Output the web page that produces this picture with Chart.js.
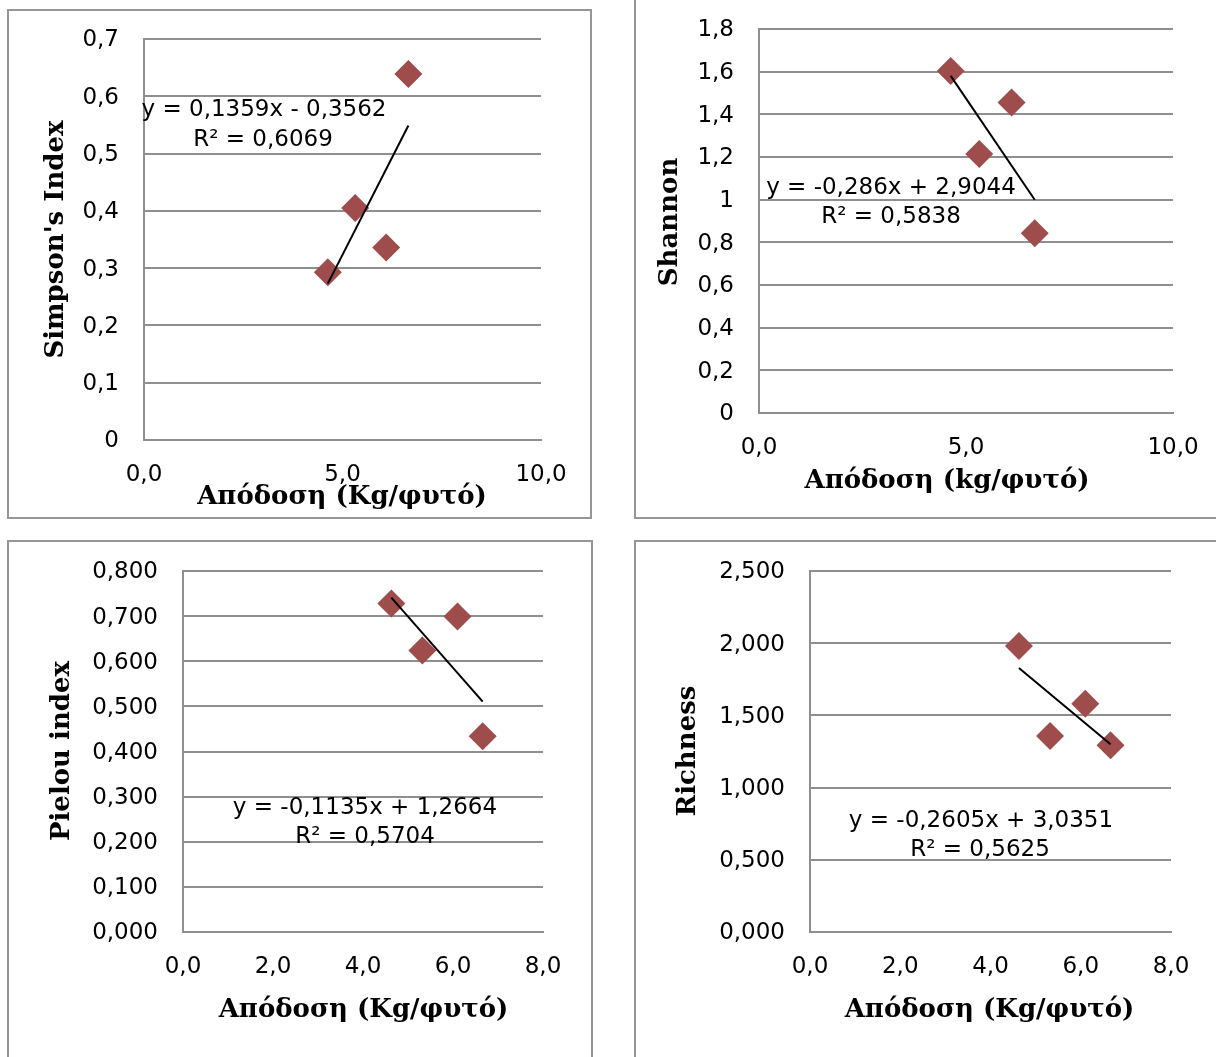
<!DOCTYPE html>
<html><head><meta charset="utf-8">
<script src="https://cdn.jsdelivr.net/npm/chart.js@4.4.1/dist/chart.umd.min.js"></script>
<style>
html,body{margin:0;padding:0;background:#fff;width:1216px;height:1057px;overflow:hidden;position:relative}
canvas{position:absolute}
.frame{position:absolute;border:2px solid #969696;box-sizing:border-box;pointer-events:none}
</style></head><body>
<div class="frame" style="left:7px;top:9px;width:585px;height:510px"></div>
<div class="frame" style="left:634px;top:-10px;width:700px;height:529px"></div>
<div class="frame" style="left:7px;top:540px;width:586px;height:600px"></div>
<div class="frame" style="left:634px;top:540px;width:700px;height:600px"></div>
<canvas id="c0" width="585" height="519" style="left:7px;top:0px"></canvas>
<canvas id="c1" width="700" height="529" style="left:634px;top:-10px"></canvas>
<canvas id="c2" width="586" height="608" style="left:7px;top:532px"></canvas>
<canvas id="c3" width="700" height="608" style="left:634px;top:532px"></canvas>
<script>
// ---- data ----
const yieldKg = [4.63, 5.32, 6.10, 6.66];
const simpson = [0.293, 0.405, 0.336, 0.639];
const shannon = [1.603, 1.214, 1.455, 0.842];
const pielou = [0.728, 0.624, 0.699, 0.434];
const richness = [1.981, 1.357, 1.580, 1.294];
const seriesValues = [simpson, shannon, pielou, richness];
const trendSlopes = [0.1359, -0.286, -0.1135, -0.2605];
const trendIntercepts = [-0.3562, 2.9044, 1.2664, 3.0351];
const trendR2 = [0.6069, 0.5838, 0.5704, 0.5625];
const yTitles = ["Simpson's Index", "Shannon", "Pielou index", "Richness"];
const xTitles = ["Απόδοση (Kg/φυτό)", "Απόδοση (kg/φυτό)", "Απόδοση (Kg/φυτό)", "Απόδοση (Kg/φυτό)"];
const yMax = [0.7, 1.8, 0.8, 2.5];
const yStep = [0.1, 0.2, 0.1, 0.5];
const yDecimals = [null, null, 3, 3];
const xMax = [10, 10, 8, 8];
const xStep = [5, 5, 2, 2];

// ---- layout (canvas origin + page-pixel positions of texts) ----
const layouts = [
  {ox:7,  oy:0,   pad:{top:39,right:51,left:0,bottom:0}, yW:137, xH:79,  yT:[56,239.5], xT:[342,497],   eq:[[264,110.2],[263,140]]},
  {ox:634,oy:-10, pad:{top:39,right:161,left:0,bottom:0},yW:125, xH:106, yT:[670,222],  xT:[947,481],   eq:[[891,188.5],[891,217.5]]},
  {ox:7,  oy:532, pad:{top:39,right:50,left:0,bottom:0}, yW:176, xH:208, yT:[62.5,751], xT:[363.5,1010],eq:[[365,808.5],[365,837.5]]},
  {ox:634,oy:532, pad:{top:39,right:163,left:0,bottom:0},yW:176, xH:208, yT:[688.5,751],xT:[989.5,1010],eq:[[981,821.5],[980,850.5]]}
];

const GRID = '#8f8f8f';
const MARK = '#9E4D4C';
const SANS = 'DejaVu Sans';
const SERIF = 'DejaVu Serif';

function fmtY(v, d) {
  if (d === null) return String(Number(v.toFixed(6))).replace('.', ',');
  return v.toFixed(d).replace('.', ',');
}
function eqText(i) {
  const s = String(trendSlopes[i]).replace('.', ',');
  const b = trendIntercepts[i];
  const bs = String(Math.abs(b)).replace('.', ',');
  return 'y = ' + s + 'x ' + (b < 0 ? '- ' : '+ ') + bs;
}

for (let i = 0; i < 4; i++) {
  const L = layouts[i];
  const pts = yieldKg.map((x, k) => ({x: x, y: seriesValues[i][k]}));
  const xmin = Math.min(...yieldKg), xmaxD = Math.max(...yieldKg);
  const trend = [xmin, xmaxD].map(x => ({x: x, y: trendSlopes[i] * x + trendIntercepts[i]}));
  const deco = {
    id: 'deco' + i,
    afterDraw(chart) {
      const ctx = chart.ctx;
      ctx.save();
      ctx.translate(-L.ox, -L.oy);
      ctx.fillStyle = '#000';
      ctx.textAlign = 'center';
      ctx.textBaseline = 'middle';
      ctx.font = '23px "' + SANS + '"';
      ctx.fillText(eqText(i), L.eq[0][0], L.eq[0][1]);
      ctx.fillText('R² = ' + String(trendR2[i]).replace('.', ','), L.eq[1][0], L.eq[1][1]);
      ctx.font = 'bold 26px "' + SERIF + '"';
      ctx.fillText(xTitles[i], L.xT[0], L.xT[1]);
      ctx.translate(L.yT[0], L.yT[1]);
      ctx.rotate(-Math.PI / 2);
      ctx.fillText(yTitles[i], 0, 0);
      ctx.restore();
    }
  };
  new Chart(document.getElementById('c' + i), {
    type: 'scatter',
    data: {
      datasets: [
        {data: trend, showLine: true, borderColor: '#000', borderWidth: 2, pointRadius: 0, order: 0},
        {data: pts, pointStyle: 'rectRot', pointRadius: 14, backgroundColor: MARK, borderWidth: 0, order: 1}
      ]
    },
    options: {
      responsive: false,
      animation: false,
      devicePixelRatio: 1,
      layout: {padding: L.pad},
      plugins: {legend: {display: false}, tooltip: {enabled: false}},
      scales: {
        x: {
          type: 'linear', min: 0, max: xMax[i],
          afterFit: s => { s.height = L.xH; },
          grid: {display: false, drawTicks: false},
          border: {display: true, color: GRID, width: 2},
          ticks: {stepSize: xStep[i], padding: 21, color: '#000', font: {family: SANS, size: 23},
            callback: v => v.toFixed(1).replace('.', ','), maxRotation: 0}
        },
        y: {
          type: 'linear', min: 0, max: yMax[i],
          afterFit: s => { s.width = L.yW; },
          grid: {display: true, drawTicks: false, color: GRID, lineWidth: 2},
          border: {display: true, color: GRID, width: 2},
          ticks: {stepSize: yStep[i], padding: 25, labelOffset: 1.5, color: '#000', font: {family: SANS, size: 23},
            callback: v => fmtY(v, yDecimals[i])}
        }
      }
    },
    plugins: [deco]
  });
}
</script>
</body></html>
